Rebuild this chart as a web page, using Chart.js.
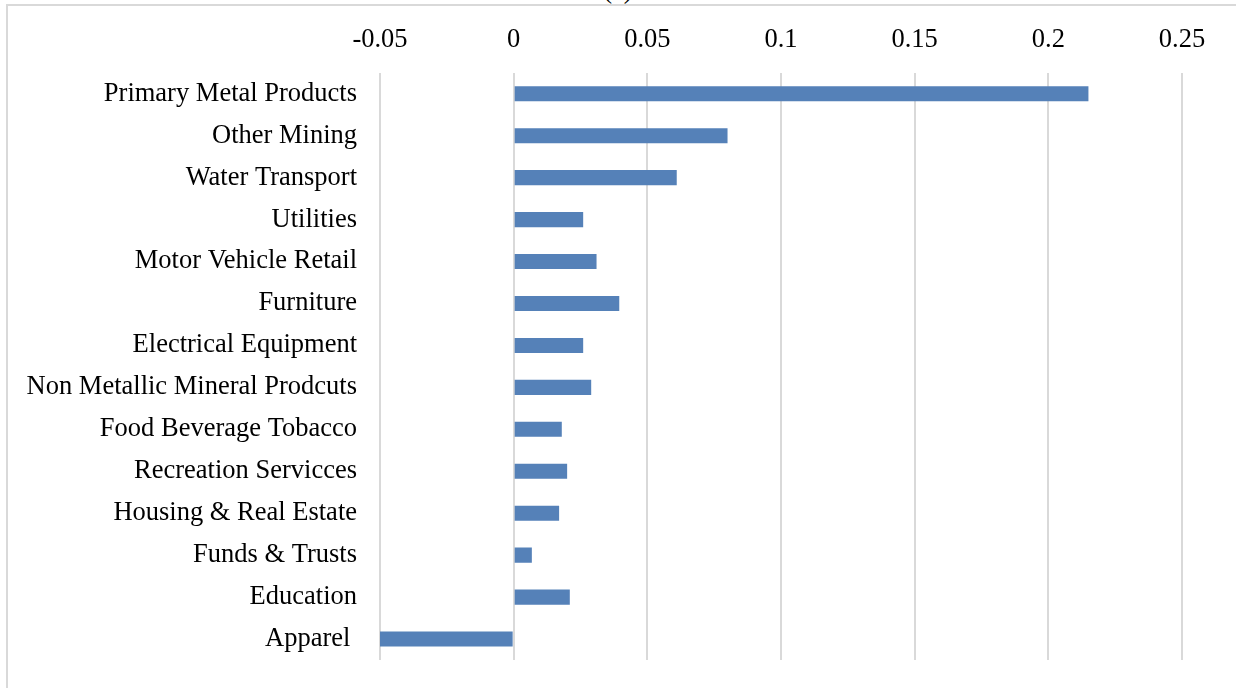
<!DOCTYPE html>
<html>
<head>
<meta charset="utf-8">
<script src="https://cdn.jsdelivr.net/npm/chart.js@4"></script>
<style>
  html, body { margin: 0; padding: 0; background: #fff; overflow: hidden; }
  #frame { position: absolute; left: 6px; top: 4px; width: 1400px; height: 900px; border: 2px solid #d9d9d9; }
  #panel { position: absolute; left: 0; top: -24px; width: 1236px; text-align: center; padding-left: 0;
           font-family: 'Liberation Serif', serif; font-size: 26.5px; line-height: 26.5px; color: #000; }
  #wrap { position: absolute; left: 0; top: 0; width: 1236px; height: 688px; }
</style>
</head>
<body>
<div id="frame"></div>
<div id="panel">(a)</div>
<div id="wrap"><canvas id="chart"></canvas></div>
<script>
const industries = [
  'Primary Metal Products', 'Other Mining', 'Water Transport', 'Utilities',
  'Motor Vehicle Retail', 'Furniture', 'Electrical Equipment',
  'Non Metallic Mineral Prodcuts', 'Food Beverage Tobacco', 'Recreation Servicces',
  'Housing & Real Estate', 'Funds & Trusts', 'Education', 'Apparel '
];
const effects = [0.215, 0.080, 0.061, 0.026, 0.031, 0.0395, 0.026, 0.029, 0.018, 0.020, 0.017, 0.0068, 0.021, -0.0503];
const tickValues = [-0.05, 0, 0.05, 0.1, 0.15, 0.2, 0.25];
const tickLabels = ['-0.05', '0', '0.05', '0.1', '0.15', '0.2', '0.25'];

const serif = { family: 'Liberation Serif', size: 26.5 };

new Chart(document.getElementById('chart'), {
  type: 'bar',
  data: {
    labels: industries,
    datasets: [{
      data: effects,
      backgroundColor: '#5581B8',
      barPercentage: 0.36,
      categoryPercentage: 1
    }]
  },
  options: {
    indexAxis: 'y',
    responsive: true,
    maintainAspectRatio: false,
    animation: false,
    layout: { padding: { top: 7, bottom: 28, right: 54, left: 0 } },
    scales: {
      x: {
        position: 'top',
        min: -0.05,
        max: 0.25,
        afterBuildTicks: scale => {
          scale.ticks = tickValues.map(v => ({ value: v }));
        },
        ticks: {
          font: serif,
          color: '#000',
          padding: 17,
          maxRotation: 0,
          callback: (v, i) => tickLabels[i]
        },
        grid: { color: '#d9d9d9', lineWidth: 2, drawTicks: false },
        border: { display: false }
      },
      y: {
        afterFit: scale => {
          scale.width = 380;
          scale.paddingTop = 0;
          scale.paddingBottom = 0;
        },
        ticks: { font: serif, color: '#000', padding: 23 },
        grid: { display: false, drawTicks: false },
        border: { display: false }
      }
    },
    plugins: {
      legend: { display: false },
      tooltip: { enabled: false }
    }
  }
});
</script>
</body>
</html>
